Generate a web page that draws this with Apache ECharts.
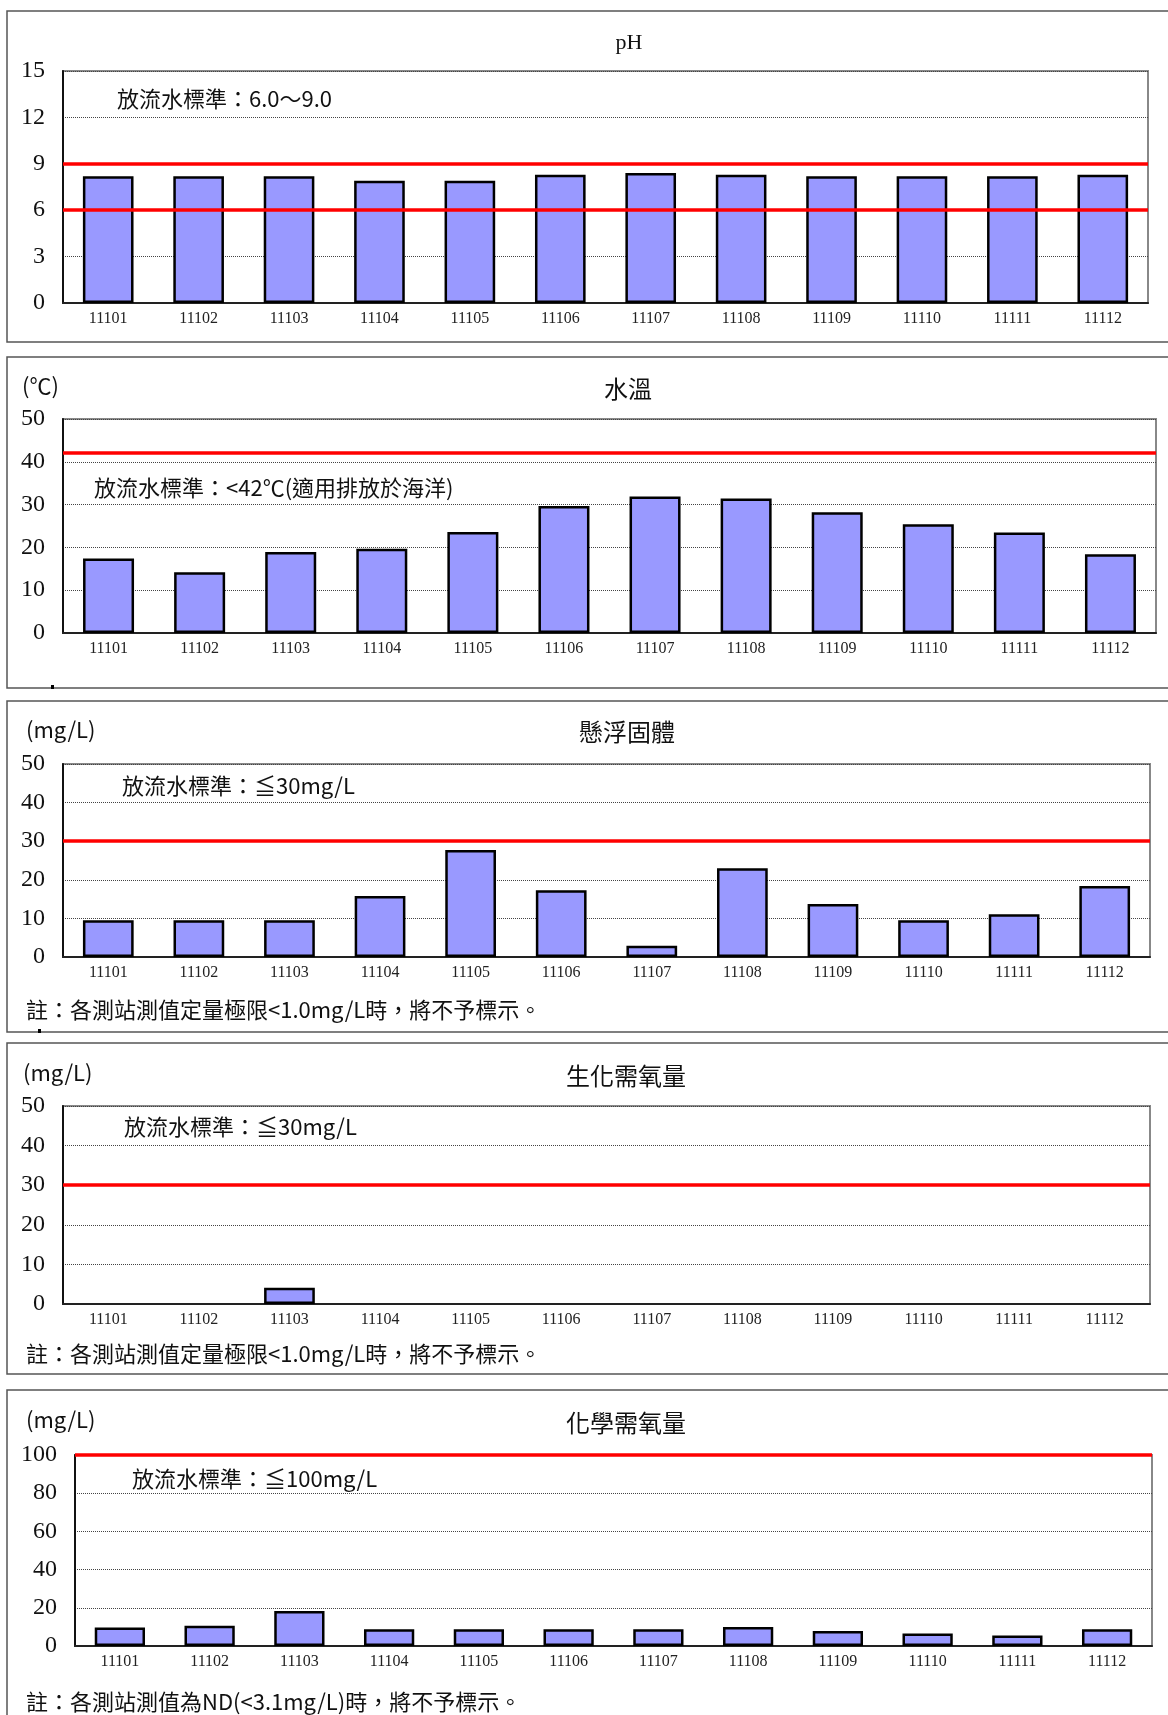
<!DOCTYPE html>
<html>
<head>
<meta charset="utf-8">
<script src="https://cdn.jsdelivr.net/npm/echarts@6/dist/echarts.min.js"></script>
<style>
  html, body { margin: 0; padding: 0; background: #fff; }
  #chart { width: 1168px; height: 1715px; }
</style>
</head>
<body>
<div id="chart"></div>
<script>
// Monthly effluent monitoring, ROC year 111 (Jan..Dec).
const months = ['11101', '11102', '11103', '11104', '11105', '11106',
  '11107', '11108', '11109', '11110', '11111', '11112']

const phValues = [8.2, 8.2, 8.2, 7.9, 7.9, 8.3, 8.4, 8.3, 8.2, 8.2, 8.2, 8.3]
const tempValues = [17.4, 14.2, 18.9, 19.7, 23.6, 29.7, 31.9, 31.4, 28.2, 25.4, 23.5, 18.4]
const ssValues = [9.5, 9.5, 9.5, 15.8, 27.7, 17.3, 2.9, 23.0, 13.7, 9.5, 11.1, 18.4]
// below quantification limit -> not plotted
const bodValues = [null, null, 4.1, null, null, null, null, null, null, null, null, null]
const codValues = [9.7, 10.6, 18.3, 8.8, 8.8, 8.8, 8.8, 9.9, 7.8, 6.5, 5.5, 8.8]

// discharge standards (red lines)
const phLimits = [9, 6]
const tempLimits = [42]
const ssLimits = [30]
const bodLimits = [30]
const codLimits = [100]

// y axis ranges [min, max, interval]
const phAxis = [0, 15, 3]
const pctAxis = [0, 50, 10]
const codAxis = [0, 100, 20]

const SERIF = '"Liberation Serif", "Noto Sans CJK TC", serif'
const CJK = '"Noto Sans CJK TC", "Liberation Serif", sans-serif'
const BAR_COLOR = '#9999ff'
const LIMIT_COLOR = '#ff0000'

const panels = [
  {
    box: [7, 11, 1175, 331],
    grid: {left: 63, top: 71, width: 1085, height: 232},
    axis: phAxis, values: phValues, limits: phLimits,
    title: ['pH', 629, 43, SERIF, 22],
    texts: [['放流水標準：6.0～9.0', 117, 99]],
  },
  {
    box: [7, 357, 1175, 331],
    grid: {left: 63, top: 419, width: 1093, height: 214},
    axis: pctAxis, values: tempValues, limits: tempLimits,
    title: ['水溫', 628, 389, CJK, 24],
    texts: [['(℃)', 22, 386], ['放流水標準：<42℃(適用排放於海洋)', 94, 488]],
  },
  {
    box: [7, 701, 1175, 331],
    grid: {left: 63, top: 764, width: 1087, height: 193},
    axis: pctAxis, values: ssValues, limits: ssLimits,
    title: ['懸浮固體', 627, 732, CJK, 24],
    texts: [['(mg/L)', 26, 730], ['放流水標準：≦30mg/L', 122, 786],
      ['註：各測站測值定量極限<1.0mg/L時，將不予標示。', 26, 1010]],
  },
  {
    box: [7, 1043, 1175, 331],
    grid: {left: 63, top: 1106, width: 1087, height: 198},
    axis: pctAxis, values: bodValues, limits: bodLimits,
    title: ['生化需氧量', 626, 1076, CJK, 24],
    texts: [['(mg/L)', 23, 1073], ['放流水標準：≦30mg/L', 124, 1127],
      ['註：各測站測值定量極限<1.0mg/L時，將不予標示。', 26, 1354]],
  },
  {
    box: [7, 1390, 1175, 340],
    grid: {left: 75, top: 1455, width: 1077, height: 191},
    axis: codAxis, values: codValues, limits: codLimits,
    title: ['化學需氧量', 626, 1423, CJK, 24],
    texts: [['(mg/L)', 26, 1420], ['放流水標準：≦100mg/L', 132, 1479],
      ['註：各測站測值為ND(<3.1mg/L)時，將不予標示。', 26, 1702]],
  },
]

const graphic = []
panels.forEach((p) => {
  graphic.push({
    type: 'rect', z: -10,
    shape: {x: p.box[0], y: p.box[1], width: p.box[2], height: p.box[3]},
    style: {fill: 'none', stroke: '#555', lineWidth: 1.5},
  })
  graphic.push({
    type: 'text', x: p.title[1], y: p.title[2],
    style: {text: p.title[0], fontFamily: p.title[3], fontSize: p.title[4],
      fill: '#111', align: 'center', verticalAlign: 'middle'},
  })
  p.texts.forEach(([text, x, y]) => {
    graphic.push({
      type: 'text', x, y,
      style: {text, fontFamily: CJK, fontSize: 22, fill: '#111', verticalAlign: 'middle'},
    })
  })
})
// stray marks on the scanned page
graphic.push({type: 'rect', shape: {x: 51, y: 685, width: 3, height: 4}, style: {fill: '#000'}})
graphic.push({type: 'rect', shape: {x: 38, y: 1029, width: 3, height: 4}, style: {fill: '#000'}})

const option = {
  animation: false,
  graphic,
  grid: panels.map((p) => ({...p.grid, show: true, borderColor: '#888', borderWidth: 2})),
  xAxis: panels.map((p, i) => ({
    type: 'category', gridIndex: i, data: months,
    axisLine: {lineStyle: {color: '#222', width: 2}},
    axisTick: {inside: true, length: 4, lineStyle: {color: '#222'}},
    axisLabel: {fontFamily: SERIF, fontSize: 16, color: '#222', margin: 8},
  })),
  yAxis: panels.map((p, i) => ({
    type: 'value', gridIndex: i,
    min: p.axis[0], max: p.axis[1], interval: p.axis[2],
    axisLine: {show: true, lineStyle: {color: '#111', width: 2}},
    axisTick: {show: false},
    axisLabel: {fontFamily: SERIF, fontSize: 24, color: '#111', margin: 18},
    splitLine: {lineStyle: {type: 'dotted', color: '#444', width: 1}},
  })),
  series: panels.map((p, i) => ({
    type: 'bar', xAxisIndex: i, yAxisIndex: i,
    data: p.values,
    barWidth: '56%',
    itemStyle: {color: BAR_COLOR, borderColor: '#000', borderWidth: 2.5},
    markLine: {
      silent: true,
      symbol: ['none', 'none'],
      label: {show: false},
      lineStyle: {color: LIMIT_COLOR, width: 3.5, type: 'solid'},
      data: p.limits.map((v) => ({yAxis: v})),
    },
  })),
}

const chart = echarts.init(document.getElementById('chart'))
chart.setOption(option)
</script>
</body>
</html>
